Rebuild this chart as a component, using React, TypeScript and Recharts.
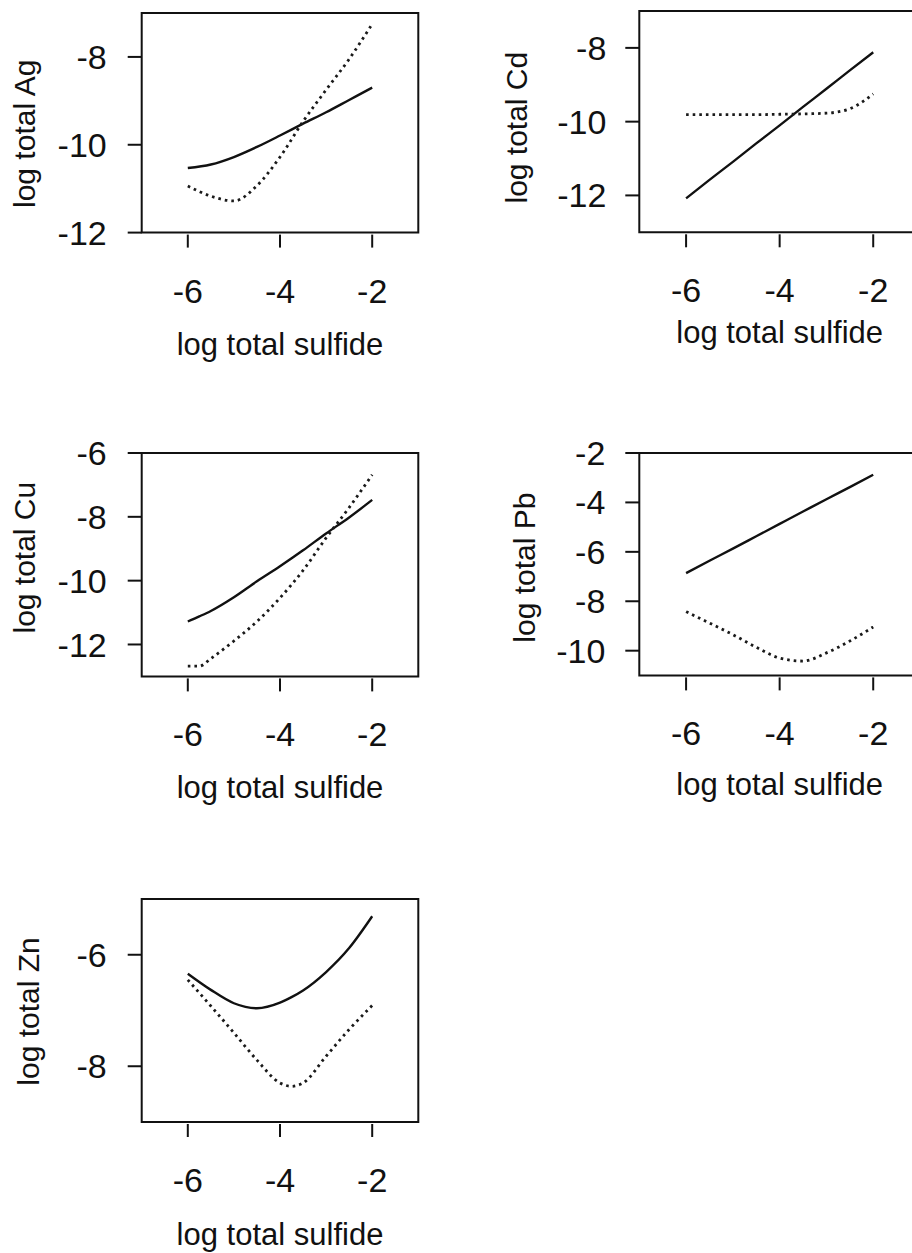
import React from "react";
import { LineChart, Line, XAxis, YAxis, ReferenceArea } from "recharts";

// log total sulfide sample points
const sulfide = [-6, -5.5, -5, -4.5, -4, -3.5, -3, -2.5, -2];
const sulfideCu = [-6, -5.75, -5.5, -5, -4.5, -4, -3.5, -3, -2.5, -2];
const sulfideZn = [-6, -5.5, -5, -4.5, -4, -3.75, -3.5, -3, -2.5, -2];
const xTicks = [-6, -4, -2];

const agSolid = [-10.53, -10.45, -10.28, -10.05, -9.79, -9.52, -9.26, -8.98, -8.7];
const agDotted = [-10.94, -11.17, -11.28, -10.93, -10.28, -9.47, -8.75, -8.05, -7.25];

const cdSolid = [-12.08, -11.58, -11.09, -10.59, -10.1, -9.6, -9.11, -8.61, -8.12];
const cdDotted = [-9.81, -9.81, -9.81, -9.81, -9.8, -9.79, -9.77, -9.65, -9.25];

const cuSolid = [-11.28, -11.12, -10.95, -10.52, -10.02, -9.55, -9.05, -8.52, -8.02, -7.47];
const cuDotted = [-12.68, -12.68, -12.44, -11.89, -11.28, -10.54, -9.68, -8.66, -7.71, -6.68];

const pbSolid = [-6.86, -6.36, -5.87, -5.37, -4.87, -4.37, -3.87, -3.38, -2.88];
const pbDotted = [-8.42, -8.88, -9.35, -9.86, -10.3, -10.42, -10.09, -9.61, -9.04];

const znSolid = [-6.34, -6.63, -6.87, -6.96, -6.86, -6.76, -6.64, -6.31, -5.88, -5.31];
const znDotted = [-6.45, -6.92, -7.4, -7.89, -8.3, -8.36, -8.3, -7.82, -7.34, -6.91];

const ink = "#111";
const TOP_PAD = 30;

function XTick({ x, y, payload }: any) {
    return (
        <g>
            <line x1={x} x2={x} y1={y + 2} y2={y + 15} stroke={ink} strokeWidth={2} />
            <text x={x} y={y + 70} textAnchor="middle" fontSize={34} fill={ink}>
                {payload.value}
            </text>
        </g>
    );
}

interface PanelProps {
    metal: string;
    xs: number[];
    solid: number[];
    dotted: number[];
    yDomain: [number, number];
    yTicks: number[];
    chartLeft: number;
    chartWidth: number;
    box: [number, number, number, number]; // left, top, right, bottom
    yLabelGap: number;
    yLabelDy: number;
    xLabelGap: number;
    yTickGap: number;
}

function Panel(p: PanelProps) {
    const [bl, bt, br, bb] = p.box;
    const yAxisWidth = bl - p.chartLeft;
    const top = bt - TOP_PAD;
    const height = bb - bt + TOP_PAD + 130;
    const data = p.xs.map((x, i) => ({ x, solid: p.solid[i], dotted: p.dotted[i] }));

    return (
        <div style={{ position: "absolute", left: p.chartLeft, top }}>
            <LineChart
                width={p.chartWidth}
                height={height}
                data={data}
                margin={{ top: TOP_PAD, right: p.chartLeft + p.chartWidth - br, bottom: 0, left: 0 }}
            >
                <XAxis
                    dataKey="x"
                    type="number"
                    domain={[-7, -1]}
                    ticks={xTicks}
                    interval={0}
                    allowDataOverflow
                    height={130}
                    axisLine={false}
                    tickLine={false}
                    tickSize={0}
                    tickMargin={0}
                    tick={<XTick />}
                    label={{ value: "log total sulfide", position: "insideTop", offset: p.xLabelGap, fontSize: 31, fill: ink }}
                />
                <YAxis
                    type="number"
                    domain={p.yDomain}
                    ticks={p.yTicks}
                    interval={0}
                    allowDataOverflow
                    width={yAxisWidth}
                    axisLine={false}
                    tickSize={14}
                    tickMargin={p.yTickGap}
                    tickLine={{ stroke: ink, strokeWidth: 2 }}
                    tick={{ fontSize: 34, fill: ink }}
                    label={{
                        value: `log total ${p.metal}`,
                        angle: -90,
                        position: "center",
                        dx: yAxisWidth / 2 - p.yLabelGap - 10.65,
                        dy: p.yLabelDy,
                        fontSize: 30,
                        fill: ink,
                    }}
                />
                <ReferenceArea
                    x1={-7}
                    x2={-1}
                    y1={p.yDomain[0]}
                    y2={p.yDomain[1]}
                    fill="none"
                    stroke={ink}
                    strokeWidth={2}
                    ifOverflow="visible"
                />
                <Line type="monotone" dataKey="solid" stroke={ink} strokeWidth={2.4} dot={false} isAnimationActive={false} />
                <Line
                    type="monotone"
                    dataKey="dotted"
                    stroke="#1a1a1a"
                    strokeWidth={2.8}
                    strokeDasharray="2.6 4"
                    dot={false}
                    isAnimationActive={false}
                />
            </LineChart>
        </div>
    );
}

export default function App() {
    return (
        <div
            style={{
                position: "fixed",
                left: 0,
                top: 0,
                width: 912,
                height: 1253,
                overflow: "hidden",
                background: "#fff",
                fontFamily: '"Liberation Sans", Arial, sans-serif',
            }}
        >
            <Panel metal="Ag" xs={sulfide} solid={agSolid} dotted={agDotted} yDomain={[-12, -7]} yTicks={[-12, -10, -8]}
                chartLeft={0} chartWidth={440} box={[141.7, 12.7, 418.3, 232.3]}
                yLabelGap={106.5} yLabelDy={11} xLabelGap={100} yTickGap={21} />
            <Panel metal="Cd" xs={sulfide} solid={cdSolid} dotted={cdDotted} yDomain={[-13, -7]} yTicks={[-12, -10, -8]}
                chartLeft={480} chartWidth={460} box={[639.3, 11, 920, 232.3]}
                yLabelGap={112} yLabelDy={6} xLabelGap={89} yTickGap={19} />
            <Panel metal="Cu" xs={sulfideCu} solid={cuSolid} dotted={cuDotted} yDomain={[-13, -6]} yTicks={[-12, -10, -8, -6]}
                chartLeft={0} chartWidth={440} box={[141.7, 453.3, 418.3, 676.7]}
                yLabelGap={106.5} yLabelDy={-7} xLabelGap={100} yTickGap={21} />
            <Panel metal="Pb" xs={sulfide} solid={pbSolid} dotted={pbDotted} yDomain={[-11, -2]} yTicks={[-10, -8, -6, -4, -2]}
                chartLeft={480} chartWidth={460} box={[639.3, 453.3, 920, 675.7]}
                yLabelGap={104} yLabelDy={3.5} xLabelGap={97.6} yTickGap={20} />
            <Panel metal="Zn" xs={sulfideZn} solid={znSolid} dotted={znDotted} yDomain={[-9, -5]} yTicks={[-8, -6]}
                chartLeft={0} chartWidth={440} box={[141.7, 899.3, 418.3, 1122.3]}
                yLabelGap={103} yLabelDy={1} xLabelGap={101} yTickGap={21} />
        </div>
    );
}
